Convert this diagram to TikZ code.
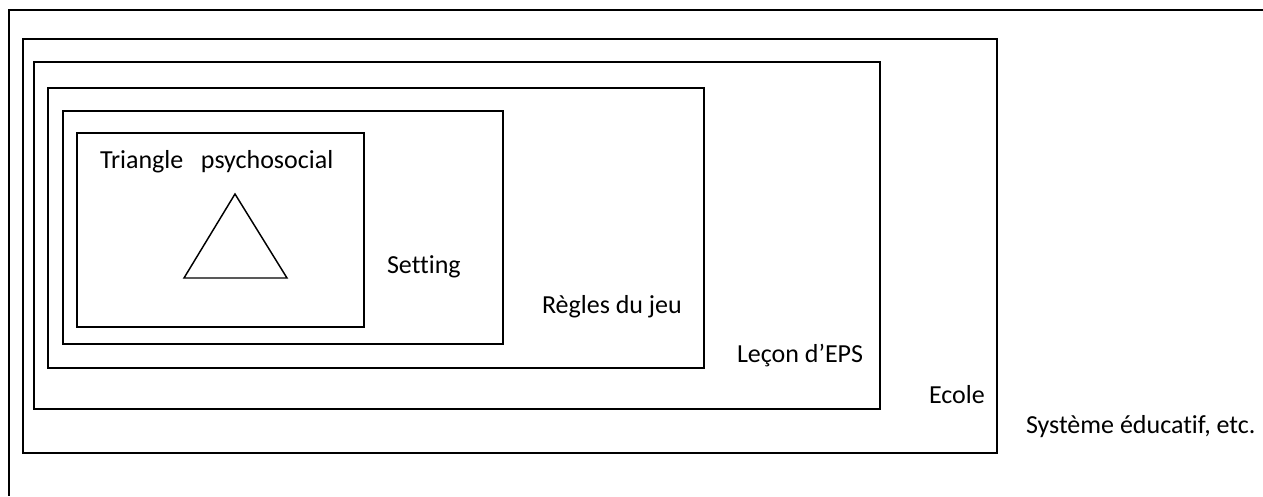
\documentclass[tikz,border=0pt]{standalone}
\usepackage{fontspec}
\setmainfont{Carlito}[Ligatures=CommonOff]
\usepackage{tikz}
\usetikzlibrary{positioning}

\begin{document}
\begin{tikzpicture}[%
    x=0.75pt,
    y=-0.75pt,
    line width=1.5pt,
    frame/.style={%
      draw,
      line join=miter
    },
    label/.style={%
      anchor=base west,
      inner sep=0pt,
      font=\fontsize{19.5}{23}\selectfont
    }
  ]
  \useasboundingbox (0,0) rectangle (1263,496);
  % Frames: 
    \draw[frame] (1263,10) -- (9,10) -- (9,496);
    \draw[frame] (23,39)  rectangle (997,453);
    \draw[frame] (34,62)  rectangle (880,409);
    \draw[frame] (48,88)  rectangle (704,368);
    \draw[frame] (63,111) rectangle (503,344);
    \draw[frame] (77,133) rectangle (364,327);
  % Triangle: 
    \draw[frame, line width=1.1pt] (235,194) -- (287,278) -- (184,278) -- cycle;
  % Labels: 
    \node[label] (tri)     at (99,168)   {Triangle\ \ \ psychosocial};
    \node[label] (setting) at (386,273)  {Setting};
    \node[label] (regles)  at (541,313)  {Règles du jeu};
    \node[label] (lecon)   at (736,362)  {Leçon d’EPS};
    \node[label] (ecole)   at (928,403)  {Ecole};
    \node[label] (systeme) at (1025,433) {Système éducatif, etc.};
\end{tikzpicture}
\end{document}
